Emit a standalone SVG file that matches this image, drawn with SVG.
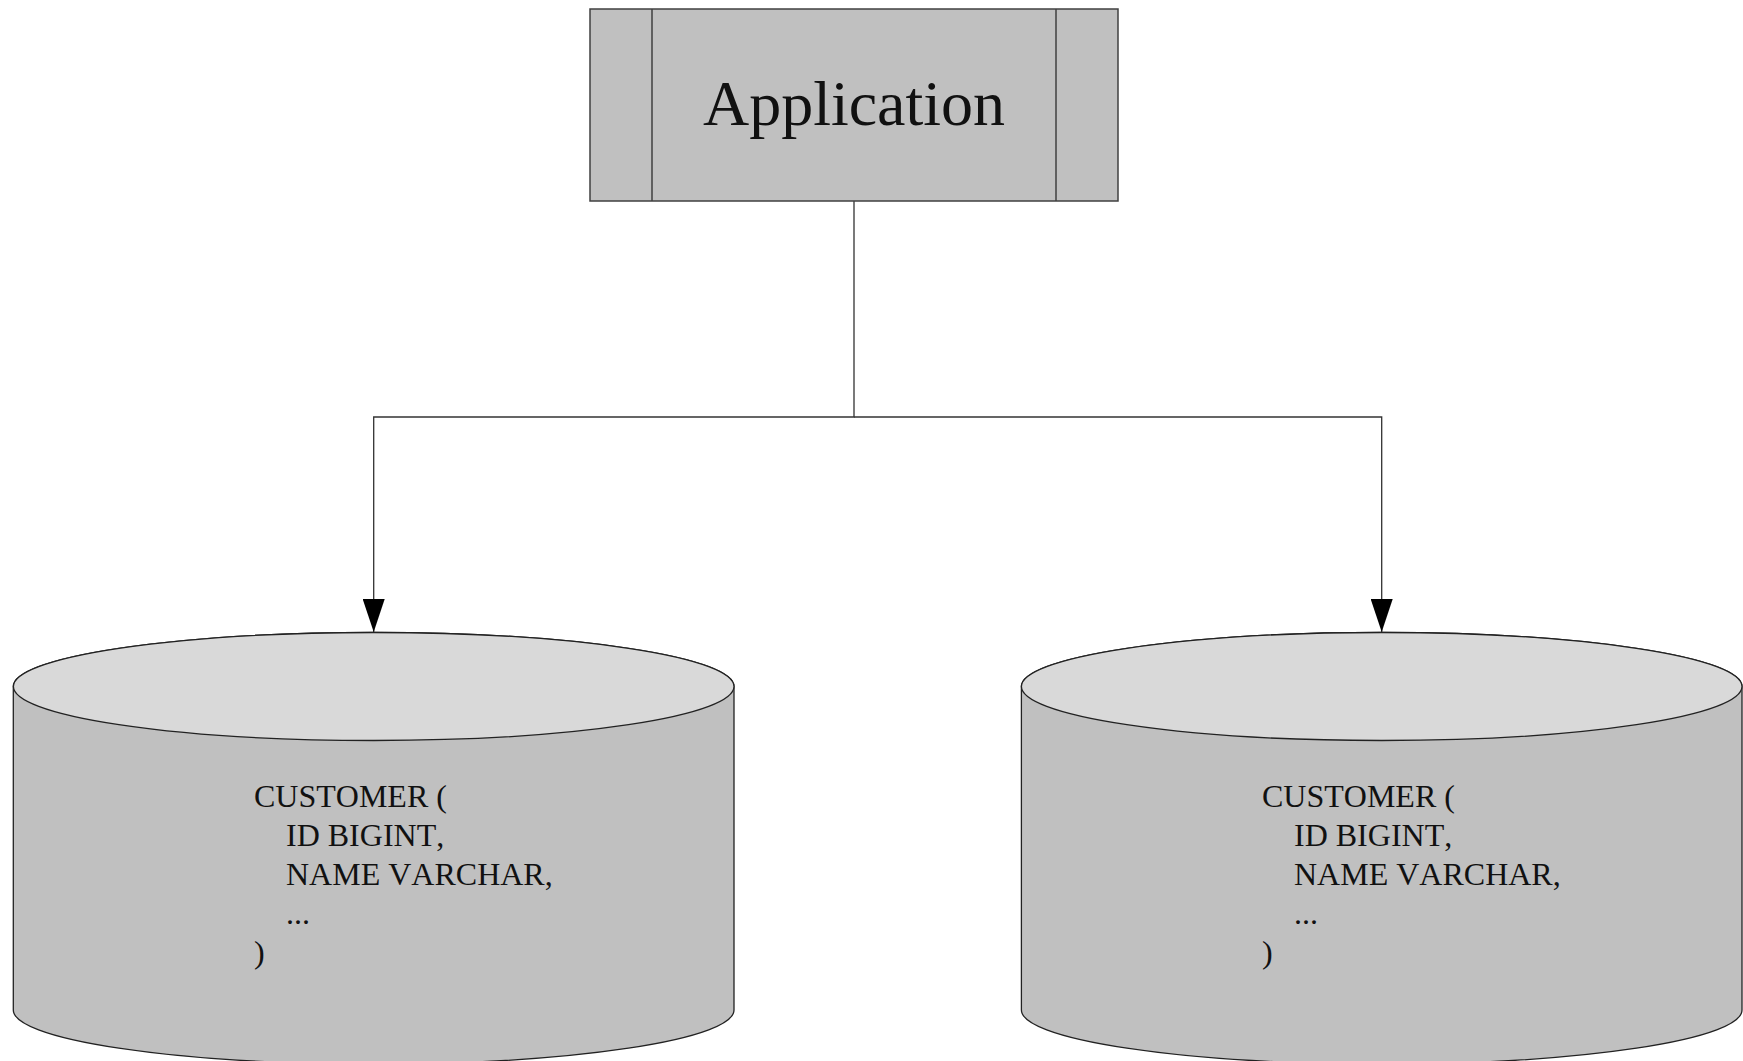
<svg xmlns="http://www.w3.org/2000/svg" width="1743" height="1061" viewBox="0 0 1743 1061">
  <style>
    .box { fill: #c0c0c0; stroke: #404040; stroke-width: 1.5; }
    .divider { stroke: #404040; stroke-width: 1.5; fill: none; }
    .body { fill: #c0c0c0; stroke: #222; stroke-width: 1.3; }
    .lid { fill: #d9d9d9; stroke: #222; stroke-width: 1.3; }
    .wire { fill: none; stroke: #333; stroke-width: 1.3; }
    .title { font-family: "Liberation Serif", "Times New Roman", serif; font-size: 64px; fill: #111; }
    .ddl { font-family: "Liberation Serif", "Times New Roman", serif; font-size: 32px; fill: #111; font-kerning: none; }
  </style>
  <defs>
    <marker id="arrow" markerUnits="userSpaceOnUse" viewBox="0 0 33 22" markerWidth="33" markerHeight="22" refX="33" refY="11" orient="auto">
      <path d="M0,0 L33,11 L0,22 Z" fill="#000"/>
    </marker>
  </defs>

  <rect width="1743" height="1061" fill="#fff"/>

  <!-- connectors -->
  <g id="connectors">
    <path class="wire" d="M854,201 V417 H373.7 V632" marker-end="url(#arrow)"/>
    <path class="wire" d="M854,417 H1381.7 V632" marker-end="url(#arrow)"/>
  </g>

  <!-- application process box -->
  <g id="application">
    <rect class="box" x="590" y="9" width="528" height="192"/>
    <line class="divider" x1="652" y1="9" x2="652" y2="201"/>
    <line class="divider" x1="1056" y1="9" x2="1056" y2="201"/>
    <text class="title" x="854" y="125" text-anchor="middle">Application</text>
  </g>

  <!-- left database -->
  <g id="db-left">
    <path class="body" d="M13.3,686.5 A360.3,54 0 0 1 734,686.5 V1010 A360.3,54 0 0 1 13.3,1010 Z"/>
    <ellipse class="lid" cx="373.7" cy="686.5" rx="360.3" ry="54"/>
    <text class="ddl" xml:space="preserve">
      <tspan x="254" y="807">CUSTOMER (</tspan>
      <tspan x="286" y="846">ID BIGINT,</tspan>
      <tspan x="286" y="885">NAME VARCHAR,</tspan>
      <tspan x="286" y="924">...</tspan>
      <tspan x="254" y="963">)</tspan>
    </text>
  </g>

  <!-- right database -->
  <g id="db-right">
    <path class="body" d="M1021.4,686.5 A360.3,54 0 0 1 1742,686.5 V1010 A360.3,54 0 0 1 1021.4,1010 Z"/>
    <ellipse class="lid" cx="1381.7" cy="686.5" rx="360.3" ry="54"/>
    <text class="ddl" xml:space="preserve">
      <tspan x="1262" y="807">CUSTOMER (</tspan>
      <tspan x="1294" y="846">ID BIGINT,</tspan>
      <tspan x="1294" y="885">NAME VARCHAR,</tspan>
      <tspan x="1294" y="924">...</tspan>
      <tspan x="1262" y="963">)</tspan>
    </text>
  </g>
</svg>
